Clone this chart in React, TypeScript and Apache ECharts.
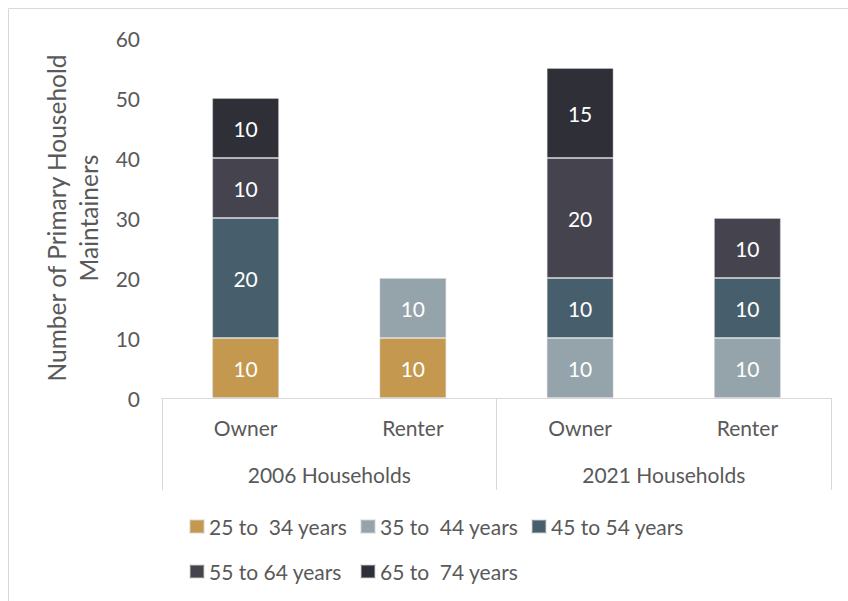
import React, { useEffect, useRef } from "react";
import * as echarts from "echarts";

const categories = ["Owner", "Renter", "Owner", "Renter"];
const groups = ["2006 Households", "2021 Households"];
const seriesNames = ["25 to  34 years", "35 to  44 years", "45 to 54 years", "55 to 64 years", "65 to  74 years"];
const age25to34 = [10, 10, null, null];
const age35to44 = [null, 10, 10, 10];
const age45to54 = [20, null, 10, 10];
const age55to64 = [10, null, 20, 10];
const age65to74 = [10, null, 15, null];
const yTicks = { min: 0, max: 60, interval: 10 };

const colors = ["#C4994F", "#95A3AB", "#475F6C", "#45434E", "#2E2F37"];
const FONT = "Lato";
const TEXT = "#595959";

export default function App() {
  const ref = useRef<HTMLDivElement>(null);
  useEffect(() => {
    if (!ref.current) return;
    const chart = echarts.init(ref.current, null, { renderer: "svg" });
    const values = [age25to34, age35to44, age45to54, age55to64, age65to74];
    chart.setOption({
      animation: false,
      backgroundColor: "#ffffff",
      textStyle: { fontFamily: FONT },
      color: colors,
      graphic: [
        {
          type: "rect",
          shape: { x: 8.5, y: 8.5, width: 1200, height: 1200 },
          style: { fill: "none", stroke: "#D9D9D9", lineWidth: 1 },
          silent: true,
          z: -1,
        },
      ],
      grid: { left: 162, top: 38, width: 669, height: 360 },
      legend: {
        data: seriesNames,
        left: 189,
        top: 504,
        width: 530,
        padding: 0,
        orient: "horizontal",
        itemGap: 0,
        itemWidth: 14,
        itemHeight: 13,
        icon: "rect",
        textStyle: {
          color: TEXT,
          fontFamily: FONT,
          fontSize: 21,
          width: 151,
          lineHeight: 45,
        },
      },
      xAxis: [
        {
          type: "category",
          data: categories,
          position: "bottom",
          axisLine: { show: true, lineStyle: { color: "#D9D9D9", width: 1 } },
          axisTick: { show: false },
          axisLabel: { color: TEXT, fontFamily: FONT, fontSize: 21, margin: 19 },
        },
        {
          type: "category",
          data: groups,
          position: "bottom",
          axisLine: { show: false },
          axisTick: {
            show: true,
            length: 92,
            interval: 0,
            lineStyle: { color: "#D9D9D9", width: 1 },
          },
          axisLabel: { color: TEXT, fontFamily: FONT, fontSize: 21, margin: 66 },
        },
      ],
      yAxis: {
        type: "value",
        min: yTicks.min,
        max: yTicks.max,
        interval: yTicks.interval,
        axisLine: { show: false },
        axisTick: { show: false },
        splitLine: { show: false },
        axisLabel: { color: TEXT, fontFamily: FONT, fontSize: 21, margin: 22 },
        name: "Number of Primary Household\nMaintainers",
        nameLocation: "middle",
        nameRotate: 90,
        nameGap: 56,
        nameTextStyle: { color: TEXT, fontFamily: FONT, fontSize: 24.5, lineHeight: 32 },
      },
      series: seriesNames.map((name, i) => ({
        name,
        type: "bar",
        stack: "total",
        xAxisIndex: 0,
        barWidth: "40%",
        data: values[i],
        itemStyle: { color: colors[i], borderColor: "rgba(210,210,210,0.45)", borderWidth: 1 },
        label: {
          show: true,
          position: "inside",
          color: "#ffffff",
          fontFamily: FONT,
          fontSize: 21,
        },
      })),
    });
    return () => chart.dispose();
  }, []);
  return (
    <div style={{ position: "fixed", left: 0, top: 0, width: 848, height: 601, overflow: "hidden" }}>
      <div ref={ref} style={{ width: 848, height: 601 }} />
    </div>
  );
}
